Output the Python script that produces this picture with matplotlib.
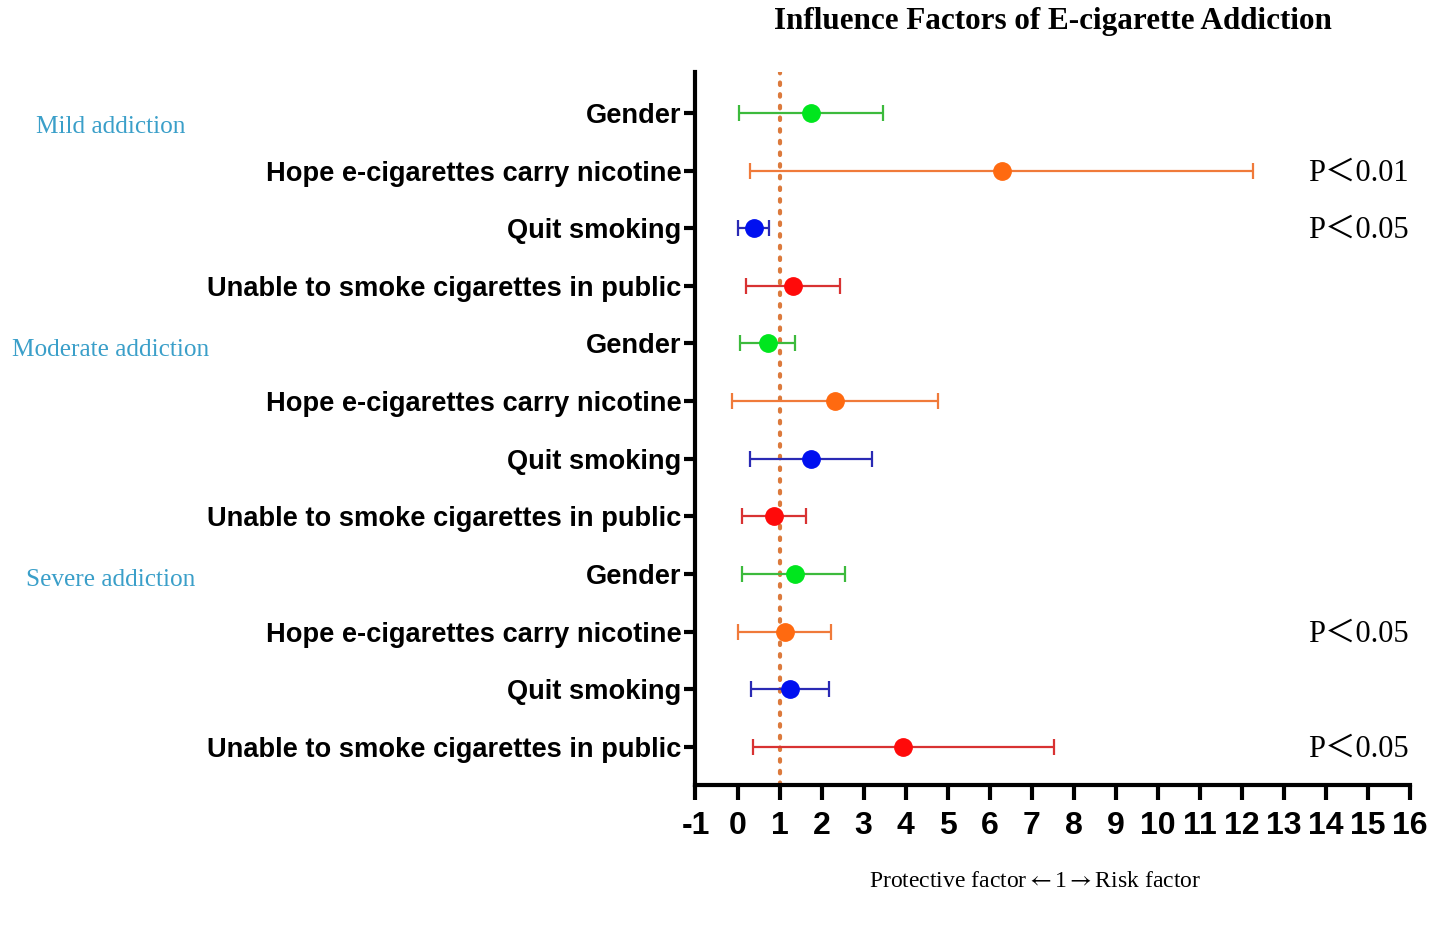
import matplotlib
matplotlib.use("Agg")
import matplotlib.pyplot as plt
import numpy as np

plt.rcParams["mathtext.fontset"] = "stix"

factors = ["Gender", "Hope e-cigarettes carry nicotine", "Quit smoking",
           "Unable to smoke cigarettes in public"]
groups = ["Mild addiction", "Moderate addiction", "Severe addiction"]
labels = factors * 3

or_values = [1.76, 6.30, 0.39, 1.33,
             0.72, 2.32, 1.76, 0.87,
             1.36, 1.12, 1.25, 3.93]
ci_low = [0.03, 0.30, 0.02, 0.20,
          0.06, -0.14, 0.30, 0.11,
          0.11, 0.02, 0.32, 0.36]
ci_high = [3.47, 12.26, 0.75, 2.45,
           1.37, 4.78, 3.21, 1.63,
           2.56, 2.22, 2.17, 7.52]
p_labels = {1: "P\uff1c0.01", 2: "P\uff1c0.05", 9: "P\uff1c0.05", 11: "P\uff1c0.05"}

point_colors = ["#00e61e", "#ff6a10", "#0010f0", "#ff0a0a"]
bar_colors = ["#3cba3c", "#f07a3a", "#2a2ab4", "#d83232"]
xticks = list(range(-1, 17))

fig = plt.figure(figsize=(14.29, 9.27), dpi=100)
ax = fig.add_axes([0.4867, 0.1532, 0.5, 0.7691])

n = len(labels)
ypos = np.arange(n)
for i in range(n):
    c = i % 4
    ax.errorbar(or_values[i], ypos[i],
                xerr=[[or_values[i] - ci_low[i]], [ci_high[i] - or_values[i]]],
                fmt="none", ecolor=bar_colors[c], elinewidth=1.6,
                capsize=6, capthick=1.6, zorder=2)
    ax.plot(or_values[i], ypos[i], "o", color=point_colors[c],
            markersize=12.5, zorder=3)

ax.axvline(1, color="#dc7a3c", linestyle=(0, (0.6, 2.2)), linewidth=3,
           dash_capstyle="round", zorder=1)

ax.set_xlim(-1, 16)
ax.set_ylim(n - 1 + 0.66, -0.71)
ax.set_xticks(xticks)
ax.set_xticklabels([str(t) for t in xticks], fontsize=23, fontweight="bold",
                   family=["Liberation Sans Narrow", "Liberation Sans"])
ax.set_yticks(ypos)
ax.set_yticklabels(labels, fontsize=19.6, fontweight="bold",
                   family=["Liberation Sans", "DejaVu Sans"])

for side in ["top", "right"]:
    ax.spines[side].set_visible(False)
for side in ["left", "bottom"]:
    ax.spines[side].set_linewidth(3)
ax.tick_params(axis="x", length=11, width=3, pad=8)
ax.tick_params(axis="y", length=8, width=3, pad=2)

ax.set_title("Influence Factors of E-cigarette Addiction", fontsize=22.4,
             fontweight="bold", family=["Liberation Serif", "DejaVu Serif"],
             pad=31)
ax.set_xlabel(r"Protective factor$\leftarrow$1$\rightarrow$Risk factor",
              fontsize=17, family=["Liberation Serif", "DejaVu Serif"])
ax.xaxis.set_label_coords(0.475, -0.121)

group_rows = [0.24, 4.12, 8.1]
for g, r in zip(groups, group_rows):
    ax.text(-0.819, r, g, transform=ax.get_yaxis_transform(),
            ha="center", va="center", fontsize=18.2, color="#3a9fc9",
            family=["Liberation Serif", "DejaVu Serif"])

for r, t in p_labels.items():
    ax.text(0.858, r + 0.04, t, transform=ax.get_yaxis_transform(), ha="left",
            va="center", fontsize=22,
            family=["Liberation Serif", "Noto Sans CJK SC", "DejaVu Sans"])

fig.savefig("out.png", dpi=100, facecolor="white")
